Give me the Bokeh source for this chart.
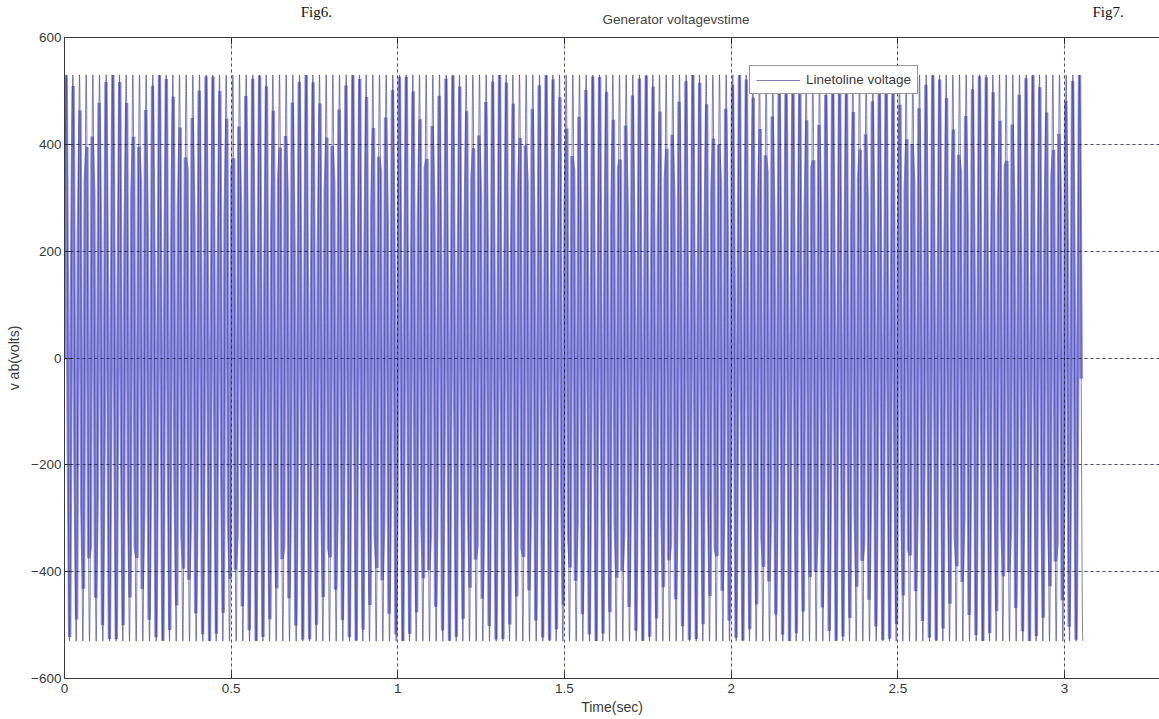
import numpy as np
from bokeh.plotting import figure
from bokeh.layouts import column
from bokeh.models import Range1d, LinearAxis, FixedTicker, Legend, LegendItem, Grid
from bokeh.core.properties import value
from bokeh.embed import file_html
from bokeh.resources import INLINE

# ---- data ----
AMPLITUDE_V = 530.0            # peak line-to-line voltage
FREQ_HZ = 50.0                 # generator frequency
T_END_S = 3.055                # end of the recorded trace
TRACE_STEP_S = 1.0e-4          # fine solver step (continuous trace)
LOG_STEP_S = 1.0 / 193.1       # logging step of the scope output
X_TICKS = [0, 0.5, 1, 1.5, 2, 2.5, 3]
X_TICK_LABELS = ["0", "0.5", "1", "1.5", "2", "2.5", "3"]
Y_TICKS = [-600, -400, -200, 0, 200, 400, 600]
X_LIMITS = [0, 3.285]
Y_LIMITS = [-600, 600]
TITLE = "Generator voltagevstime"
TITLE_X = 1.75
FIG_LABELS = ["Fig6.", "Fig7."]

t_fine = np.arange(0.0, T_END_S, TRACE_STEP_S)
v_fine = AMPLITUDE_V * np.sin(2 * np.pi * FREQ_HZ * t_fine)
t_log = np.arange(0.0, T_END_S, LOG_STEP_S)
v_log = AMPLITUDE_V * np.sin(2 * np.pi * FREQ_HZ * t_log)

FONT = "Liberation Sans"
AX = "#3a3a3a"
TXT = "#3a3a3a"
W = 1159
HEAD_H = 29
LEFT = 64

# ---- header strip with the page captions and the axes title ----
head = figure(width=W, height=HEAD_H, output_backend="svg", toolbar_location=None,
              x_range=Range1d(0, W), y_range=Range1d(HEAD_H, 0),
              x_axis_location=None, y_axis_location=None,
              min_border=0, title=None)
head.outline_line_color = None
head.grid.visible = False
head.text(x=[250, 1088], y=[11, 11], text=FIG_LABELS, text_font=value("Liberation Serif"),
          text_font_size="15px", text_color="#111111", text_baseline="alphabetic")
title_px = LEFT + TITLE_X * (W - LEFT) / (X_LIMITS[1] - X_LIMITS[0])
head.text(x=[title_px], y=[19], text=[TITLE], text_font=value(FONT), text_font_size="13.5px",
          text_color="#444444", text_align="center", text_baseline="middle")

# ---- main axes ----
p = figure(width=W, height=719 - HEAD_H, output_backend="svg", toolbar_location=None,
           title=None,
           x_range=Range1d(*X_LIMITS), y_range=Range1d(*Y_LIMITS),
           x_axis_location=None, y_axis_location=None,
           min_border_left=LEFT, min_border_right=0, min_border_top=37 - HEAD_H,
           min_border_bottom=41)
p.outline_line_color = None
p.background_fill_color = "white"
p.border_fill_color = "white"

p.line(t_log, v_log, line_color="#8282e0", line_width=3.4, line_alpha=0.9)
line = p.line(t_fine, v_fine, line_color="#34348c", line_width=0.9, line_alpha=0.7)

def style_axis(ax):
    ax.axis_line_color = AX
    ax.major_tick_line_color = AX
    ax.minor_tick_line_color = None
    ax.major_tick_in = 7
    ax.major_tick_out = 0
    ax.major_label_text_font = FONT
    ax.major_label_text_font_size = "13.5px"
    ax.major_label_text_color = TXT
    ax.axis_label_text_font = FONT
    ax.axis_label_text_font_size = "14px"
    ax.axis_label_text_font_style = "normal"
    ax.axis_label_text_color = TXT

xb = LinearAxis(ticker=FixedTicker(ticks=X_TICKS), axis_label="Time(sec)")
style_axis(xb)
xb.major_label_standoff = 5
xb.axis_label_standoff = 3
xb.major_label_overrides = dict(zip(X_TICKS, X_TICK_LABELS))
p.add_layout(xb, "below")

xt = LinearAxis(ticker=FixedTicker(ticks=X_TICKS))
style_axis(xt)
xt.major_label_overrides = {t: "" for t in X_TICKS}
xt.major_label_standoff = 0
p.add_layout(xt, "above")

yl = LinearAxis(ticker=FixedTicker(ticks=Y_TICKS), axis_label="v ab(volts)")
style_axis(yl)
yl.major_label_standoff = 3
yl.axis_label_standoff = 6
p.add_layout(yl, "left")

gx = Grid(dimension=0, ticker=FixedTicker(ticks=X_TICKS), grid_line_color="#1a1a40",
          grid_line_dash="3 3", grid_line_width=1, grid_line_alpha=0.75, level="overlay")
gy = Grid(dimension=1, ticker=FixedTicker(ticks=Y_TICKS), grid_line_color="#1a1a40",
          grid_line_dash="3 3", grid_line_width=1, grid_line_alpha=0.75, level="overlay")
p.add_layout(gx)
p.add_layout(gy)

legend = Legend(items=[LegendItem(label="Linetoline voltage", renderers=[line])],
                location=(685, 584), orientation="vertical")
legend.border_line_color = "#333333"
legend.border_line_width = 1
legend.background_fill_color = "white"
legend.background_fill_alpha = 1
legend.label_text_font = FONT
legend.label_text_font_size = "13.5px"
legend.label_text_color = TXT
legend.glyph_width = 44
legend.glyph_height = 12
legend.label_height = 12
legend.padding = 6
legend.margin = 0
legend.spacing = 0
legend.label_standoff = 6
p.add_layout(legend, "center")

open("out.html", "w").write(file_html(column(head, p, spacing=0), INLINE))
